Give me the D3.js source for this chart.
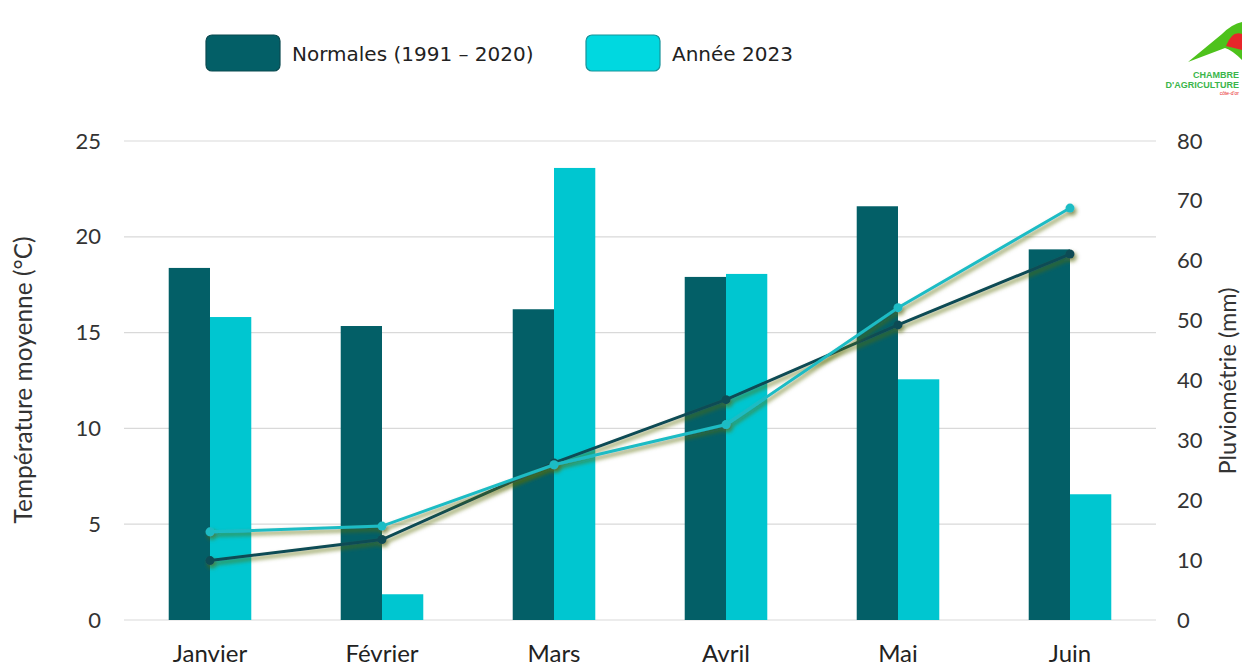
<!DOCTYPE html>
<html><head><meta charset="utf-8">
<script src="https://cdn.jsdelivr.net/npm/d3@7/dist/d3.min.js"></script>
<style>body{margin:0;background:#fff}svg{display:block}</style>
</head><body><svg id="c" width="1242" height="666"></svg>
<script>
const months = ["Janvier","Février","Mars","Avril","Mai","Juin"];
const seriesNames = ["Normales (1991 – 2020)","Année 2023"];
const rainNormal = [58.8, 49.1, 51.9, 57.3, 69.1, 61.9];
const rain2023 = [50.6, 4.3, 75.5, 57.8, 40.2, 21.0];
const tempNormal = [3.1, 4.2, 8.2, 11.5, 15.4, 19.1];
const temp2023 = [4.6, 4.9, 8.1, 10.2, 16.3, 21.5];
const tempTicks = [0,5,10,15,20,25];
const rainTicks = [0,10,20,30,40,50,60,70,80];

const svg = d3.select("#c");
const colDark = "#035f67", colLight = "#00c6d0";
const lineDark = "#0c4c55", lineLight = "#1fbcc4";
const font = "Lato, 'Open Sans', sans-serif";

const x = d3.scaleBand().domain(months).range([124,1156]).paddingInner(0.52).paddingOuter(0.26);
const yT = d3.scaleLinear().domain([0,25]).range([620,141]);
const yR = d3.scaleLinear().domain([0,80]).range([620,141]);
const xs = d3.scaleBand().domain([0,1]).range([0,x.bandwidth()]);

const defs = svg.append("defs");
const f = defs.append("filter").attr("id","sh").attr("x","-10%").attr("y","-10%").attr("width","130%").attr("height","140%");
f.append("feDropShadow").attr("dx",2).attr("dy",3).attr("stdDeviation",2).attr("flood-color","#5a6a10").attr("flood-opacity",0.75);

// gridlines
svg.append("g").selectAll("line").data(tempTicks).join("line")
  .attr("x1",124).attr("x2",1156).attr("y1",d=>yT(d)).attr("y2",d=>yT(d))
  .attr("stroke","#d9d9d9").attr("stroke-width",1.2);

// left axis
const ax = d3.axisLeft(yT).tickValues(tempTicks).tickSize(0).tickPadding(0);
const gl = svg.append("g").attr("transform","translate(101,0)").call(ax);
gl.select(".domain").remove();
gl.selectAll("text").attr("font-family",font).attr("font-size",22).attr("fill","#333");

const axR = d3.axisRight(yR).tickValues(rainTicks).tickSize(0).tickPadding(0);
const gr = svg.append("g").attr("transform","translate(1177,0)").call(axR);
gr.select(".domain").remove();
gr.selectAll("text").attr("font-family",font).attr("font-size",22).attr("fill","#333");

// bars
const bars = svg.append("g");
months.forEach((m,i)=>{
  [[rainNormal[i],colDark],[rain2023[i],colLight]].forEach(([v,c],k)=>{
    bars.append("rect").attr("x",x(m)+xs(k)).attr("width",xs.bandwidth())
      .attr("y",yR(v)).attr("height",yR(0)-yR(v)).attr("fill",c);
  });
});

// category labels
svg.append("g").selectAll("text").data(months).join("text")
  .attr("x",d=>x(d)+x.bandwidth()/2).attr("y",662).attr("text-anchor","middle")
  .attr("font-family",font).attr("font-size",24).attr("fill","#222").text(d=>d);

// lines
const line = d3.line().x((d,i)=>x(months[i])+x.bandwidth()/2).y(d=>yT(d));
[[tempNormal,lineDark],[temp2023,lineLight]].forEach(([data,c])=>{
  const g = svg.append("g").attr("filter","url(#sh)");
  g.append("path").datum(data).attr("d",line).attr("fill","none").attr("stroke",c).attr("stroke-width",3);
  g.selectAll("circle").data(data).join("circle")
    .attr("cx",(d,i)=>x(months[i])+x.bandwidth()/2).attr("cy",d=>yT(d)).attr("r",4.5).attr("fill",c);
});

// axis titles
svg.append("text").attr("transform","translate(32,380) rotate(-90)").attr("text-anchor","middle")
  .attr("font-family",font).attr("font-size",24.5).attr("fill","#333").text("Température moyenne (°C)");
svg.append("text").attr("transform","translate(1236,381) rotate(-90)").attr("text-anchor","middle")
  .attr("font-family",font).attr("font-size",23.5).attr("fill","#333").text("Pluviométrie (mm)");

// legend
const lg = svg.append("g");
[[206,colDark,"#0a4a50"],[586,"#00d8e0","#17939a"]].forEach(([lx,c,s],i)=>{
  lg.append("rect").attr("x",lx).attr("y",35).attr("width",74).attr("height",36).attr("rx",6)
    .attr("fill",c).attr("stroke",s).attr("stroke-width",1.2);
  lg.append("text").attr("x",lx+86).attr("y",61).attr("font-family","'DejaVu Sans', Verdana, sans-serif")
    .attr("font-size",20).attr("fill","#222").text(seriesNames[i]);
});

// logo
const logo = svg.append("g");
logo.append("path").attr("d","M1188,62 L1222,34 Q1232,24 1242,22 L1242,60 Q1232,50 1225,48 Z").attr("fill","#4ec21c");
logo.append("path").attr("d","M1226,46 Q1232,30 1242,34 L1242,50 Z").attr("fill","#e8262a");
logo.append("text").attr("x",1239).attr("y",78).attr("text-anchor","end")
  .attr("font-family","'Liberation Sans Narrow','Liberation Sans',sans-serif")
  .attr("font-size",9).attr("font-weight","bold").attr("fill","#3ab54a").text("CHAMBRE");
logo.append("text").attr("x",1239).attr("y",88).attr("text-anchor","end")
  .attr("font-family","'Liberation Sans Narrow','Liberation Sans',sans-serif")
  .attr("font-size",9).attr("font-weight","bold").attr("fill","#3ab54a").text("D'AGRICULTURE");
logo.append("text").attr("x",1239).attr("y",95).attr("text-anchor","end")
  .attr("font-family","'Liberation Sans',sans-serif")
  .attr("font-size",5).attr("fill","#e8262a").text("côte-d'or");
</script></body></html>
